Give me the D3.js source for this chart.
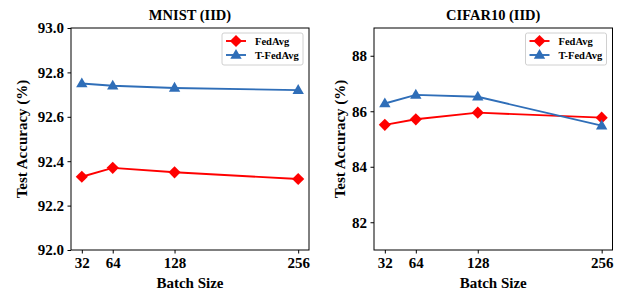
<!DOCTYPE html>
<html lang="en">
<head>
<meta charset="utf-8">
<title>Batch size vs test accuracy</title>
<script src="https://cdn.jsdelivr.net/npm/d3@7/dist/d3.min.js"></script>
<style>
  body { margin: 0; background: #fff; }
</style>
</head>
<body>
<svg id="chart" width="625" height="291"></svg>
<script>
// batch sizes on the x axis
var batchSizes = [32, 64, 128, 256];

// MNIST (IID)
var mnistFedAvg  = [92.33, 92.37, 92.35, 92.32];
var mnistTFedAvg = [92.75, 92.74, 92.73, 92.72];
var mnistTicks   = [92.0, 92.2, 92.4, 92.6, 92.8, 93.0];

// CIFAR10 (IID)
var cifarFedAvg  = [85.51, 85.71, 85.95, 85.77];
var cifarTFedAvg = [86.28, 86.59, 86.52, 85.48];
var cifarTicks   = [82, 84, 86, 88];

var seriesNames = ['FedAvg', 'T-FedAvg'];
var colors = ['#ff0000', '#2f6eb8'];
var FONT = "'Liberation Serif', 'Times New Roman', Times, serif";

var svg = d3.select('#chart');

function drawPanel(opt) {
    var g = svg.append('g');

    var x = d3.scaleLinear().domain([20.8, 267.2]).range([opt.left, opt.right]);
    var y = d3.scaleLinear().domain(opt.yDomain).range([250, 28]);

    // frame
    g.append('rect')
        .attr('x', opt.left).attr('y', 28)
        .attr('width', opt.right - opt.left).attr('height', 222)
        .attr('fill', 'none').attr('stroke', '#000').attr('stroke-width', 1);

    var xAxis = g.append('g')
        .attr('transform', 'translate(0,250)')
        .call(d3.axisBottom(x).tickValues(batchSizes).tickSize(3.5).tickPadding(3.5).tickFormat(d3.format('d')));
    var yAxis = g.append('g')
        .attr('transform', 'translate(' + opt.left + ',0)')
        .call(d3.axisLeft(y).tickValues(opt.ticks).tickSize(3.5).tickPadding(3.5).tickFormat(opt.fmt));
    [xAxis, yAxis].forEach(function(a) {
        a.attr('font-family', FONT).attr('font-size', 15).attr('font-weight', 'bold');
        a.select('.domain').remove();
        a.selectAll('line').attr('stroke', '#000');
    });

    // titles
    g.append('text')
        .attr('x', (opt.left + opt.right) / 2).attr('y', 20)
        .attr('text-anchor', 'middle').attr('font-size', 14.5)
        .attr('font-family', FONT).attr('font-weight', 'bold')
        .text(opt.title);
    g.append('text')
        .attr('x', (opt.left + opt.right) / 2).attr('y', 288)
        .attr('text-anchor', 'middle').attr('font-size', 15)
        .attr('font-family', FONT).attr('font-weight', 'bold')
        .text('Batch Size');
    g.append('text')
        .attr('transform', 'translate(' + opt.yLabelX + ',139) rotate(-90)')
        .attr('text-anchor', 'middle').attr('font-size', 15)
        .attr('font-family', FONT).attr('font-weight', 'bold')
        .text('Test Accuracy (%)');

    var line = d3.line()
        .x(function(d, i) { return x(batchSizes[i]); })
        .y(function(d) { return y(d); });

    var diamond = d3.symbol().type(d3.symbolSquare).size(74);
    var triangle = d3.symbol().type(d3.symbolTriangle).size(56);

    opt.series.forEach(function(vals, k) {
        g.append('path')
            .datum(vals)
            .attr('d', line)
            .attr('fill', 'none')
            .attr('stroke', colors[k])
            .attr('stroke-width', 1.9);
        g.selectAll('.m' + k)
            .data(vals)
            .enter().append('path')
            .attr('class', 'm' + k)
            .attr('d', k === 0 ? diamond : triangle)
            .attr('transform', function(d, i) {
                var t = 'translate(' + x(batchSizes[i]) + ',' + y(d) + ')';
                return k === 0 ? t + ' rotate(45)' : t + ' translate(0,0.5)';
            })
            .attr('fill', colors[k]);
    });

    // legend
    var lx = opt.right - 87, ly = 33;
    g.append('rect')
        .attr('x', lx).attr('y', ly).attr('width', 81).attr('height', 32)
        .attr('rx', 2).attr('fill', '#fff').attr('stroke', '#d0d0d0').attr('stroke-width', 1);
    seriesNames.forEach(function(name, k) {
        var yy = ly + 8 + k * 14;
        g.append('line')
            .attr('x1', lx + 4).attr('x2', lx + 24)
            .attr('y1', yy).attr('y2', yy)
            .attr('stroke', colors[k]).attr('stroke-width', 1.9);
        g.append('path')
            .attr('d', k === 0 ? diamond : triangle)
            .attr('transform', 'translate(' + (lx + 14) + ',' + yy + ')' + (k === 0 ? ' rotate(45)' : ' translate(0,0.5)'))
            .attr('fill', colors[k]);
        g.append('text')
            .attr('x', lx + 33).attr('y', yy + 3.5)
            .attr('font-size', 10.5)
            .attr('font-family', FONT).attr('font-weight', 'bold')
            .text(name);
    });
}

drawPanel({
    left: 71, right: 309,
    yDomain: [92.0, 93.0],
    ticks: mnistTicks,
    fmt: d3.format('.1f'),
    title: 'MNIST (IID)',
    yLabelX: 27,
    series: [mnistFedAvg, mnistTFedAvg]
});

drawPanel({
    left: 374, right: 612.5,
    yDomain: [81, 89],
    ticks: cifarTicks,
    fmt: d3.format('d'),
    title: 'CIFAR10 (IID)',
    yLabelX: 345,
    series: [cifarFedAvg, cifarTFedAvg]
});
</script>
</body>
</html>
